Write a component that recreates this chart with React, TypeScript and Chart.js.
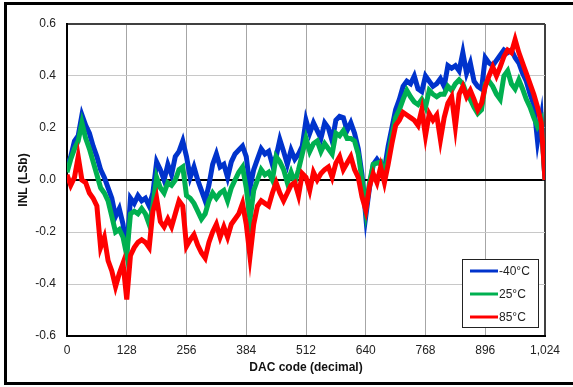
import React, { useEffect, useRef } from "react";
import { Chart, registerables } from "chart.js";

Chart.register(...registerables);

// DAC codes (x categories), every 8 codes
const dacCodes: number[] = Array.from({ length: 129 }, (_, i) => i * 8);

const xTicks = [0, 128, 256, 384, 512, 640, 768, 896, 1024];
const yTicks = [-0.6, -0.4, -0.2, 0.0, 0.2, 0.4, 0.6];

const seriesNames = ["-40°C", "25°C", "85°C"];
const seriesColors = ["#0033CC", "#00B050", "#FF0000"];

// INL (LSb) at -40°C
const inlMinus40 = [
  0.05, 0.09, 0.15, 0.17, 0.25, 0.21, 0.18, 0.13,
  0.09, 0.04, 0.01, -0.03, -0.07, -0.14, -0.11, -0.17,
  -0.28, -0.07, -0.09, -0.06, -0.08, -0.07, -0.10, -0.05,
  0.07, 0.04, 0.0, 0.06, 0.02, 0.09, 0.11, 0.15,
  0.09, 0.01, 0.05, 0.0, -0.04, -0.08, -0.02, 0.06,
  0.10, 0.05, 0.06, 0.01, 0.07, 0.10, 0.115, 0.13,
  0.09, -0.03, 0.04, 0.08, 0.12, 0.10, 0.11, 0.06,
  0.09, 0.155, 0.11, 0.06, 0.115, 0.08, 0.10, 0.13,
  0.23, 0.18, 0.22, 0.19, 0.16, 0.22, 0.20, 0.15,
  0.23, 0.245, 0.24, 0.19, 0.22, 0.18, 0.12, 0.02,
  -0.14, -0.03, 0.06, 0.08, 0.06, 0.04, 0.13, 0.20,
  0.27, 0.31, 0.36, 0.38, 0.37, 0.40, 0.35, 0.34,
  0.40, 0.38, 0.36, 0.37, 0.39, 0.36, 0.44, 0.43,
  0.44, 0.42, 0.49, 0.41, 0.45, 0.38, 0.36, 0.35,
  0.47, 0.45, 0.44, 0.46, 0.48, 0.50, 0.49, 0.50,
  0.47, 0.45, 0.41, 0.38, 0.33, 0.29, 0.15, 0.24,
  0.0,
];

// INL (LSb) at 25°C
const inl25 = [
  0.03, 0.08, 0.12, 0.15, 0.22, 0.16, 0.12, 0.07,
  0.02, -0.03, -0.05, -0.08, -0.14, -0.20, -0.19, -0.22,
  -0.29, -0.13, -0.12, -0.13, -0.11, -0.13, -0.17, -0.10,
  0.01, -0.03, -0.05, -0.01, -0.02, 0.0, 0.04, 0.05,
  -0.06, -0.07, -0.09, -0.12, -0.15, -0.13, -0.08, -0.05,
  -0.07, -0.05, -0.04, -0.08, -0.03, 0.0, 0.03, 0.05,
  -0.03, -0.155, -0.04, 0.0, 0.04, 0.02, 0.03, 0.0,
  0.09, 0.07, 0.04, -0.01, 0.03, -0.01, 0.04, 0.10,
  0.16, 0.11, 0.14, 0.15, 0.11, 0.14, 0.12, 0.10,
  0.18, 0.17, 0.19, 0.16, 0.16, 0.15, 0.10, 0.0,
  -0.115, -0.01, 0.06, 0.065, 0.07, 0.02, 0.09, 0.17,
  0.24, 0.27, 0.31, 0.345, 0.32, 0.30, 0.29, 0.31,
  0.28, 0.345, 0.33, 0.32, 0.33, 0.33, 0.36, 0.345,
  0.37, 0.385, 0.37, 0.33, 0.31, 0.28, 0.256, 0.27,
  0.37, 0.38, 0.36, 0.33, 0.31, 0.40, 0.42, 0.37,
  0.35, 0.385, 0.35, 0.31, 0.28, 0.24, 0.205, 0.23,
  0.0,
];

// INL (LSb) at 85°C
const inl85 = [
  0.02, -0.02, 0.01, 0.09, 0.0, -0.01, -0.05, -0.07,
  -0.10, -0.26, -0.22, -0.31, -0.35, -0.41, -0.36, -0.32,
  -0.46, -0.29, -0.26, -0.24, -0.23, -0.24, -0.26, -0.12,
  -0.07, -0.16, -0.18, -0.15, -0.18, -0.13, -0.08, -0.10,
  -0.255, -0.23, -0.21, -0.25, -0.28, -0.30, -0.24, -0.20,
  -0.17, -0.22, -0.18, -0.22, -0.17, -0.15, -0.13, -0.09,
  -0.17, -0.295, -0.17, -0.10, -0.08, -0.09, -0.10, -0.05,
  -0.01, -0.05, -0.08, -0.05, -0.02, -0.01, -0.06, 0.025,
  0.01, -0.04, 0.03, 0.0, 0.025, 0.04, 0.05, 0.01,
  0.065, 0.09, 0.04, 0.065, 0.09, 0.04, 0.01, -0.065,
  -0.115, -0.025, 0.025, -0.01, 0.05, -0.01, 0.06, 0.14,
  0.21, 0.23, 0.26, 0.25, 0.24, 0.23, 0.21, 0.27,
  0.17, 0.255, 0.23, 0.25, 0.155, 0.24, 0.295, 0.32,
  0.205, 0.33, 0.36, 0.32, 0.345, 0.31, 0.27, 0.295,
  0.36, 0.40, 0.435, 0.40, 0.435, 0.475, 0.50, 0.49,
  0.54, 0.49, 0.45, 0.41, 0.37, 0.33, 0.28, 0.22,
  0.0,
];

const FONT = "Arial, 'Liberation Sans', sans-serif";

const legendBox = {
  id: "legendBox",
  afterDraw(chart: any) {
    const ctx = chart.ctx;
    ctx.save();
    const bx = 462.5, by = 259.5, bw = 76, bh = 68;
    ctx.fillStyle = "#ffffff";
    ctx.fillRect(bx, by, bw, bh);
    ctx.strokeStyle = "#222";
    ctx.lineWidth = 1;
    ctx.strokeRect(bx, by, bw, bh);
    ctx.font = "12px " + FONT;
    ctx.textBaseline = "middle";
    ctx.textAlign = "left";
    seriesNames.forEach((name, i) => {
      const y = 271 + i * 23;
      ctx.strokeStyle = seriesColors[i];
      ctx.lineWidth = 3;
      ctx.beginPath();
      ctx.moveTo(470, y);
      ctx.lineTo(498, y);
      ctx.stroke();
      ctx.fillStyle = "#222";
      ctx.fillText(name, 499, y + 1);
    });
    ctx.restore();
  },
};

export default function App() {
  const ref = useRef<HTMLCanvasElement>(null);

  useEffect(() => {
    if (!ref.current) return;
    const seriesData = [inlMinus40, inl25, inl85];
    const chart = new Chart(ref.current, {
      type: "line",
      data: {
        datasets: seriesData.map((vals, s) => ({
          label: seriesNames[s],
          data: vals.map((v, i) => ({ x: dacCodes[i], y: v })),
          borderColor: seriesColors[s],
          backgroundColor: seriesColors[s],
          borderWidth: 5,
          borderJoinStyle: "miter" as const,
          pointRadius: 0,
          tension: 0,
          fill: false,
          order: 2 - s,
        })),
      },
      options: {
        responsive: false,
        animation: false,
        maintainAspectRatio: false,
        layout: { padding: { left: 0, top: 24, right: 28, bottom: 0 } },
        plugins: {
          legend: { display: false },
          tooltip: { enabled: false },
        },
        scales: {
          x: {
            type: "linear",
            min: 0,
            max: 1024,
            afterFit: (s: any) => {
              s.height = 51;
            },
            afterBuildTicks: (s: any) => {
              s.ticks = xTicks.map((v) => ({ value: v }));
            },
            ticks: {
              padding: 7,
              color: "#222",
              font: { size: 12, family: FONT },
              maxRotation: 0,
              autoSkip: false,
              callback: (v: any) => Number(v).toLocaleString("en-US"),
            },
            grid: {
              drawTicks: false,
              color: (c: any) => (c.tick && c.tick.value === 1024 ? "#404040" : "#a6a6a6"),
              lineWidth: (c: any) => (c.tick && c.tick.value === 1024 ? 2 : 1),
            },
            border: { display: true, color: "#000", width: 2 },
            title: {
              display: true,
              text: "DAC code (decimal)",
              color: "#111",
              font: { size: 12, weight: "bold", family: FONT },
              padding: { top: 0, bottom: 12 },
            },
          },
          y: {
            type: "linear",
            min: -0.6,
            max: 0.6,
            afterFit: (s: any) => {
              s.width = 67;
            },
            afterBuildTicks: (s: any) => {
              s.ticks = yTicks.map((v) => ({ value: v }));
            },
            ticks: {
              padding: 11,
              color: "#222",
              font: { size: 12, family: FONT },
              callback: (v: any) => {
                const n = Number(v);
                return Math.abs(n) < 1e-9 ? "0.0" : n.toFixed(1);
              },
            },
            grid: {
              drawTicks: false,
              color: (c: any) => {
                const v = c.tick ? c.tick.value : 1;
                if (Math.abs(v) < 1e-9) return "#000";
                if (Math.abs(v - 0.6) < 1e-9) return "#404040";
                return "#c8c8c8";
              },
              lineWidth: (c: any) => {
                const v = c.tick ? c.tick.value : 1;
                if (Math.abs(v) < 1e-9) return 2;
                if (Math.abs(v - 0.6) < 1e-9) return 2;
                return 1;
              },
            },
            border: { display: true, color: "#000", width: 2 },
            title: {
              display: true,
              text: "INL (LSb)",
              color: "#111",
              font: { size: 12, weight: "bold", family: FONT },
              padding: { top: 16, bottom: 0 },
            },
          },
        },
      },
      plugins: [legendBox],
    });
    return () => chart.destroy();
  }, []);

  return (
    <div
      style={{
        position: "fixed",
        left: 0,
        top: 0,
        width: 573,
        height: 387,
        overflow: "hidden",
        background: "#fff",
      }}
    >
      <div
        style={{
          position: "absolute",
          left: 4,
          top: 2,
          width: 620,
          height: 383,
          boxSizing: "border-box",
          border: "3px solid #000",
        }}
      />
      <canvas
        ref={ref}
        width={573}
        height={387}
        style={{ position: "absolute", left: 0, top: 0, width: 573, height: 387 }}
      />
    </div>
  );
}
